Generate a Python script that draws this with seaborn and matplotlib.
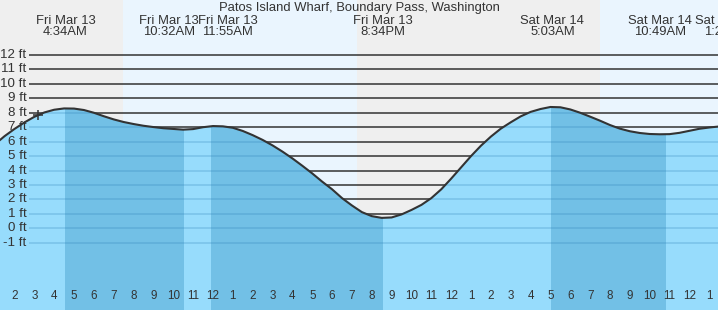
import numpy as np
import pandas as pd
import matplotlib
matplotlib.use("Agg")
import matplotlib.pyplot as plt
import seaborn as sns

# ---------------- data ----------------
title = "Patos Island Wharf, Boundary Pass, Washington"

# hours since midnight Fri Mar 13 (half-hour samples), tide height in ft
hours = [1.0, 1.5, 2.0, 2.5, 3.0, 3.5, 4.0, 4.5, 5.0, 5.5, 6.0, 6.5, 7.0, 7.5,
         8.0, 8.5, 9.0, 9.5, 10.0, 10.5, 11.0, 11.5, 12.0, 12.5, 13.0, 13.5,
         14.0, 14.5, 15.0, 15.5, 16.0, 16.5, 17.0, 17.5, 18.0, 18.5, 19.0, 19.5,
         20.0, 20.5, 21.0, 21.5, 22.0, 22.5, 23.0, 23.5, 24.0, 24.5, 25.0, 25.5,
         26.0, 26.5, 27.0, 27.5, 28.0, 28.5, 29.0, 29.5, 30.0, 30.5, 31.0, 31.5,
         32.0, 32.5, 33.0, 33.5, 34.0, 34.5, 35.0, 35.5, 36.0, 36.5, 37.0, 37.5]
heights = [5.80, 6.38, 6.88, 7.33, 7.72, 8.02, 8.21, 8.30, 8.29, 8.19, 8.00, 7.76,
           7.54, 7.36, 7.22, 7.10, 7.01, 6.93, 6.88, 6.83, 6.87, 7.00, 7.08, 7.06,
           6.96, 6.74, 6.45, 6.12, 5.74, 5.31, 4.84, 4.33, 3.80, 3.23, 2.70, 2.09,
           1.58, 1.12, 0.84, 0.72, 0.75, 0.96, 1.27, 1.62, 2.09, 2.70, 3.44, 4.22,
           5.00, 5.72, 6.35, 6.90, 7.34, 7.75, 8.06, 8.26, 8.40, 8.38, 8.23, 8.00,
           7.73, 7.45, 7.15, 6.90, 6.72, 6.60, 6.53, 6.51, 6.52, 6.61, 6.75, 6.89,
           6.98, 7.05]

event_labels = ["Fri Mar 13\n4:34AM", "Fri Mar 13\n10:32AM", "Fri Mar 13\n11:55AM",
                "Fri Mar 13\n8:34PM", "Sat Mar 14\n5:03AM", "Sat Mar 14\n10:49AM",
                "Sat Mar 14\n1:22PM"]
event_hours = [4 + 34/60, 10 + 32/60, 11 + 55/60, 20 + 34/60, 29 + 3/60,
               34 + 49/60, 37 + 22/60]
event_types = ["H", "L", "H", "L", "H", "L", "H"]

sunrise_hours = [7 + 28/60, 31 + 29/60]
sunset_hours = [19 + 16/60]

now_hour = 3.17
now_height = 7.85

ytick_values = list(range(-1, 13))
ytick_labels = [f"{v} ft" for v in ytick_values]

hour_ticks = list(range(2, 38))
hour_labels = ["2", "3", "4", "5", "6", "7", "8", "9", "10", "11", "12",
               "1", "2", "3", "4", "5", "6", "7", "8", "9", "10", "11", "12",
               "1", "2", "3", "4", "5", "6", "7", "8", "9", "10", "11", "12", "1"]
midnight_tick = 24

# ---------------- layout / style ----------------
W, H, DPI = 718, 310, 100
PXH = 19.85           # pixels per hour
X0 = 1.27             # hour at left edge
XMAX = X0 + W / PXH
YMIN, YMAX = -5.66, 15.81

NIGHT = "#efefef"
DAY = "#eaf5fe"
FILL_LIGHT = "#97dcfc"
FILL_DARK = "#72c0e6"
INK = "#333333"

sns.set_theme(style="white")
plt.rcParams["font.family"] = ["Liberation Sans", "DejaVu Sans"]

fig = plt.figure(figsize=(W / DPI, H / DPI), dpi=DPI)
ax = fig.add_axes([0, 0, 1, 1])
ax.set_xlim(X0, XMAX)
ax.set_ylim(YMIN, YMAX)
for s in ax.spines.values():
    s.set_visible(False)
ax.set_facecolor(NIGHT)

# day shading
bounds = [X0] + sorted(sunrise_hours + sunset_hours) + [XMAX]
is_day = False
for a, b in zip(bounds[:-1], bounds[1:]):
    ax.axvspan(a, b, color=DAY if is_day else NIGHT, lw=0, zorder=0)
    is_day = not is_day

# grid lines
gx0 = X0 + 29 / PXH
ax.hlines(ytick_values, gx0, XMAX, color=INK, lw=1.1, zorder=1)

# tide fill
df = pd.DataFrame({"hour": hours, "height": heights})
poly = ax.fill_between(df["hour"], df["height"], YMIN, color=FILL_LIGHT, lw=0, zorder=2)
clip = poly.get_paths()[0]

for i, (t, kind) in enumerate(zip(event_hours, event_types)):
    if kind == "H" and i + 1 < len(event_hours):
        r = ax.axvspan(t, event_hours[i + 1], color=FILL_DARK, lw=0, zorder=3)
        r.set_clip_path(clip, transform=ax.transData)

under = ax.hlines(ytick_values, gx0, XMAX, color="#2a7fb5", alpha=0.28, lw=1.1, zorder=4)
under.set_clip_path(clip, transform=ax.transData)

sns.lineplot(data=df, x="hour", y="height", color=INK, lw=1.5, ax=ax, zorder=5)
ax.plot([now_hour], [now_height], marker="+", ms=7, mew=1.1, color=INK, zorder=6)

# y labels
for v, lab in zip(ytick_values, ytick_labels):
    ax.text(X0 + 26.5 / PXH, v, lab, ha="right", va="center", fontsize=9.6, color=INK, zorder=7)

# title & event labels
ax.text(0.5, 1 - 7.5 / H, title, transform=ax.transAxes, ha="center", va="center",
        fontsize=9.4, color=INK)
label_shift_px = [0, -15, 16.5, 0, 1, -6, 10]
for t, lab, sh in zip(event_hours, event_labels, label_shift_px):
    ax.annotate(lab, xy=(t, YMAX), xycoords="data",
                xytext=(sh * 0.72, -14.5 * 0.72), textcoords="offset points",
                ha="center", va="top", fontsize=9.4, color=INK, linespacing=0.95)

# hour ticks
ax.set_xticks(hour_ticks)
ax.set_xticklabels([])
ax.set_yticks([])
ax.tick_params(axis="x", direction="in", length=8 * 0.72, width=0.8, color=INK,
               bottom=True, top=False, pad=0)
ax.xaxis.grid(False)
for tk, h in zip(ax.xaxis.get_major_ticks(), hour_ticks):
    tk.tick1line.set_zorder(8)
    if h == midnight_tick:
        tk.tick1line.set_markeredgewidth(3 * 0.72)
for h, lab in zip(hour_ticks, hour_labels):
    ax.text(h, YMIN + (310 - 295.5) / 14.44, lab, ha="center", va="center",
            fontsize=8.4, color=INK, zorder=8)

ax.set_xlabel("")
ax.set_ylabel("")
fig.savefig("out.png", dpi=DPI)
